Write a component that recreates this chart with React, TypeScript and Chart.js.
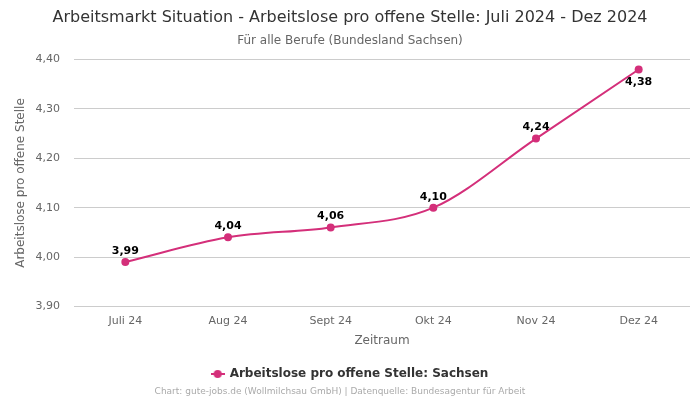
import React, { useEffect, useRef } from "react";
import { Chart, registerables } from "chart.js";

Chart.register(...registerables);

const categories = ["Juli 24", "Aug 24", "Sept 24", "Okt 24", "Nov 24", "Dez 24"];
const values = [3.99, 4.04, 4.06, 4.1, 4.24, 4.38];
const labelBelow = [false, false, false, false, false, true];
const seriesLabel = "Arbeitslose pro offene Stelle: Sachsen";
const titleText = "Arbeitsmarkt Situation - Arbeitslose pro offene Stelle: Juli 2024 - Dez 2024";
const subtitleText = "Für alle Berufe (Bundesland Sachsen)";
const footerText = "Chart: gute-jobs.de (Wollmilchsau GmbH) | Datenquelle: Bundesagentur für Arbeit";
const yTitle = "Arbeitslose pro offene Stelle";
const xTitle = "Zeitraum";

const COLOR = "#d42f7a";
const FONT = "'DejaVu Sans', sans-serif";

const fmt = (v: number) => v.toFixed(2).replace(".", ",");

export default function App() {
  const ref = useRef<HTMLCanvasElement | null>(null);

  useEffect(() => {
    document.body.style.margin = "0";
    const canvas = ref.current!;

    const legendIcon = document.createElement("canvas");
    legendIcon.width = 14;
    legendIcon.height = 10;
    const lctx = legendIcon.getContext("2d")!;
    lctx.strokeStyle = COLOR;
    lctx.lineWidth = 2;
    lctx.beginPath();
    lctx.moveTo(0, 5);
    lctx.lineTo(14, 5);
    lctx.stroke();
    lctx.fillStyle = COLOR;
    lctx.beginPath();
    lctx.arc(7, 5, 4, 0, Math.PI * 2);
    lctx.fill();

    const labelsPlugin = {
      id: "valueLabels",
      afterDatasetsDraw(chart: any) {
        const ctx = chart.ctx;
        const meta = chart.getDatasetMeta(0);
        ctx.save();
        ctx.font = `bold 11px ${FONT}`;
        ctx.fillStyle = "#000";
        ctx.textAlign = "center";
        ctx.textBaseline = "middle";
        meta.data.forEach((pt: any, i: number) => {
          const dy = labelBelow[i] ? 13 : -11;
          ctx.fillText(fmt(values[i]), pt.x, pt.y + dy);
        });
        ctx.restore();
      },
    };

    const footerPlugin = {
      id: "footer",
      afterDraw(chart: any) {
        const ctx = chart.ctx;
        ctx.save();
        ctx.font = `9px ${FONT}`;
        ctx.fillStyle = "#aaa";
        ctx.textAlign = "center";
        ctx.textBaseline = "middle";
        ctx.fillText(footerText, 340, 392);
        ctx.restore();
      },
    };

    const chart = new Chart(canvas, {
      type: "line",
      data: {
        labels: categories,
        datasets: [
          {
            label: seriesLabel,
            data: values,
            borderColor: COLOR,
            backgroundColor: COLOR,
            borderWidth: 2,
            pointRadius: 4,
            pointBackgroundColor: COLOR,
            pointBorderWidth: 0,
            pointStyle: "circle",
            tension: 0.4,
            cubicInterpolationMode: "monotone",
          } as any,
        ],
      },
      options: {
        animation: false,
        responsive: false,
        layout: { padding: { left: 10, right: 10, bottom: 10 } },
        plugins: {
          title: {
            display: true,
            text: titleText,
            color: "#333",
            font: { family: FONT, size: 16, weight: "normal" },
            padding: { top: 8, bottom: 6 },
          },
          subtitle: {
            display: true,
            text: subtitleText,
            color: "#666",
            font: { family: FONT, size: 12, weight: "normal" },
            padding: { bottom: 12 },
          },
          legend: {
            position: "bottom",
            labels: {
              usePointStyle: true,
              color: "#333",
              font: { family: FONT, size: 12, weight: "bold" },
              padding: 14,
              generateLabels: (c: any) => {
                const items = Chart.defaults.plugins.legend.labels.generateLabels(c);
                return items.map((it: any) => ({ ...it, pointStyle: legendIcon }));
              },
            },
          },
          tooltip: { enabled: false },
        },
        scales: {
          x: {
            offset: true,
            grid: { display: false },
            border: { display: false },
            ticks: { color: "#666", font: { family: FONT, size: 11 }, padding: 0 },
            title: {
              display: true,
              text: xTitle,
              color: "#666",
              font: { family: FONT, size: 12 },
              padding: { top: 6, bottom: 6 },
            },
          },
          y: {
            min: 3.9,
            max: 4.4,
            afterFit: (s: any) => {
              s.width = 64;
            },
            grid: { color: "#ccc", drawTicks: false },
            border: { display: false },
            ticks: {
              stepSize: 0.1,
              color: "#666",
              font: { family: FONT, size: 11 },
              padding: 14,
              callback: (v: any) => fmt(Number(v)),
            },
            title: {
              display: true,
              text: yTitle,
              color: "#666",
              font: { family: FONT, size: 12 },
            },
          },
        },
      } as any,
      plugins: [labelsPlugin, footerPlugin],
    });

    return () => chart.destroy();
  }, []);

  return (
    <div style={{ width: 700, height: 400, position: "relative" }}>
      <canvas ref={ref} width={700} height={400} style={{ display: "block" }} />
    </div>
  );
}
